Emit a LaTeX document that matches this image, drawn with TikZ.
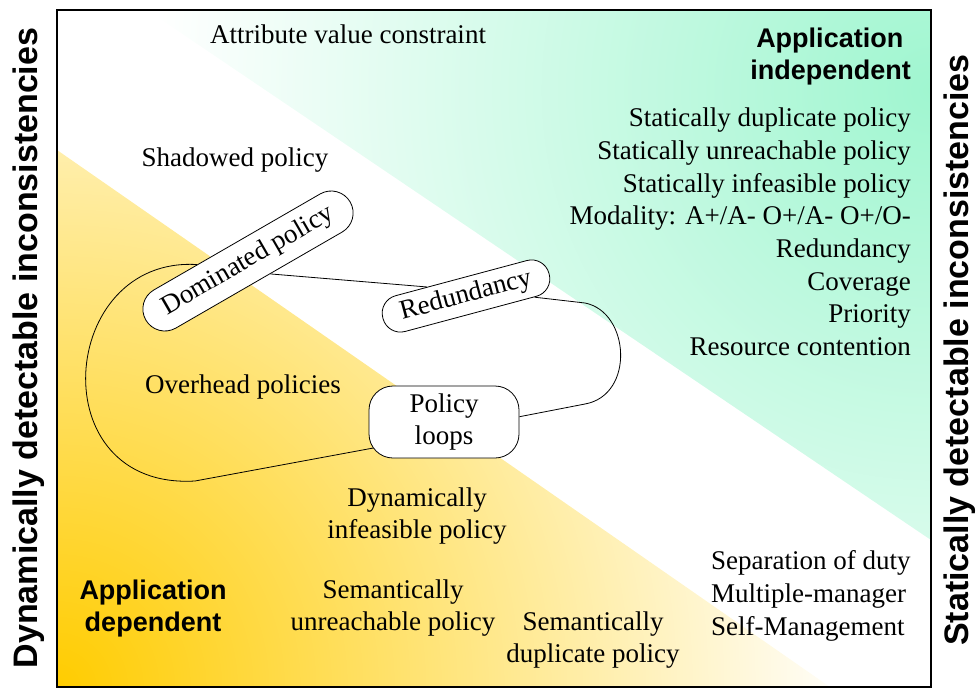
\documentclass[tikz,border=0pt]{standalone}
\usepackage{fontspec}
\setmainfont{Liberation Serif}
\newfontfamily\hdrfont{Liberation Sans}
\usetikzlibrary{calc}
\pgfdeclarelayer{background}
\pgfsetlayers{background,main}
\definecolor{mint}{RGB}{160,246,208}
\definecolor{gold}{RGB}{255,204,0}
\tikzset{
	lbl/.style = {align=center, inner sep=0pt, font=\fontsize{27}{32.7}\selectfont},
	hdr/.style = {align=center, inner sep=0pt, font=\hdrfont\bfseries\fontsize{27}{32}\selectfont},
	side/.style = {hdr, rotate=90, font=\hdrfont\bfseries\fontsize{34}{36}\selectfont},
	pol/.style = {lbl, draw, fill=white, rounded corners=#1, line width=0.8pt},
	pol/.default = 20pt,
	conn/.style = {draw, line width=0.8pt}
}

\begin{document}
\begin{tikzpicture}[x=1pt, y=-1pt]
	\useasboundingbox (0,0) rectangle (980,688);
	% shaded corners
	\begin{pgfonlayer}{background}
		\begin{scope}
			\clip (147,10) -- (931,10) -- (931,540) -- cycle;
			\shade[inner color=mint, outer color=white] (931,90) circle[radius=780];
		\end{scope}
		\begin{scope}
			\clip (57,150) -- (57,687) -- (830,687) -- cycle;
			\shade[inner color=gold, outer color=white] (57,687) circle[radius=800];
		\end{scope}
	\end{pgfonlayer}
	\draw[line width=2.2pt] (57,10) rectangle (931,687);

	% axis titles
	\node[side] (dyn) at (29,348) {Dynamically detectable inconsistencies};
	\node[side] (stat) at (960,350) {Statically detectable inconsistencies};

	% application independent
	\node[hdr, align=right, anchor=east] (indep) at (911,57) {Application\hspace*{.28em}\\independent};
	\node[lbl, align=right, anchor=east] (slist) at (911,232) {Statically duplicate policy\\Statically unreachable policy\\Statically infeasible policy\\Modality: A+/A- O+/A- O+/O-\\Redundancy\\Coverage\\Priority\\Resource contention};
	\node[lbl] (attr) at (348,34) {Attribute value constraint};

	% application dependent
	\node[hdr] (dep) at (153,609) {Application\\dependent};
	\node[lbl] (shad) at (235,160) {Shadowed policy};
	\node[lbl] (over) at (243,387) {Overhead policies};
	\node[lbl] (dynf) at (417,516) {Dynamically\\infeasible policy};
	\node[lbl] (semu) at (393,608) {Semantically\\unreachable policy};
	\node[lbl] (semd) at (593,640) {Semantically\\duplicate policy};
	\node[lbl, align=left, anchor=west] (sep) at (711,596) {Separation of duty\\Multiple-manager\\Self-Management};

	% overhead loop
	\node[pol=22pt, rotate=30, minimum width=236pt, minimum height=44pt] (dom) at (248,261) {Dominated policy};
	\node[pol=18pt, rotate=15, minimum width=172pt, minimum height=37pt] (red) at (466,296) {Redundancy};
	\node[pol=24pt, minimum width=150pt, minimum height=72pt] (loops) at (444,422) {Policy\\loops};
	\begin{pgfonlayer}{background}
		\draw[conn] (dom.-60) -- (red.152);
		\draw[conn] (red.-16) -- (585,303) .. controls (630,312) and (635,395) .. (585,404) -- (loops.4);
		\draw[conn] (dom.154) .. controls (58,256) and (40,490) .. (195,481) -- ([shift={(8,-11)}]loops.south west);
	\end{pgfonlayer}
\end{tikzpicture}
\end{document}
